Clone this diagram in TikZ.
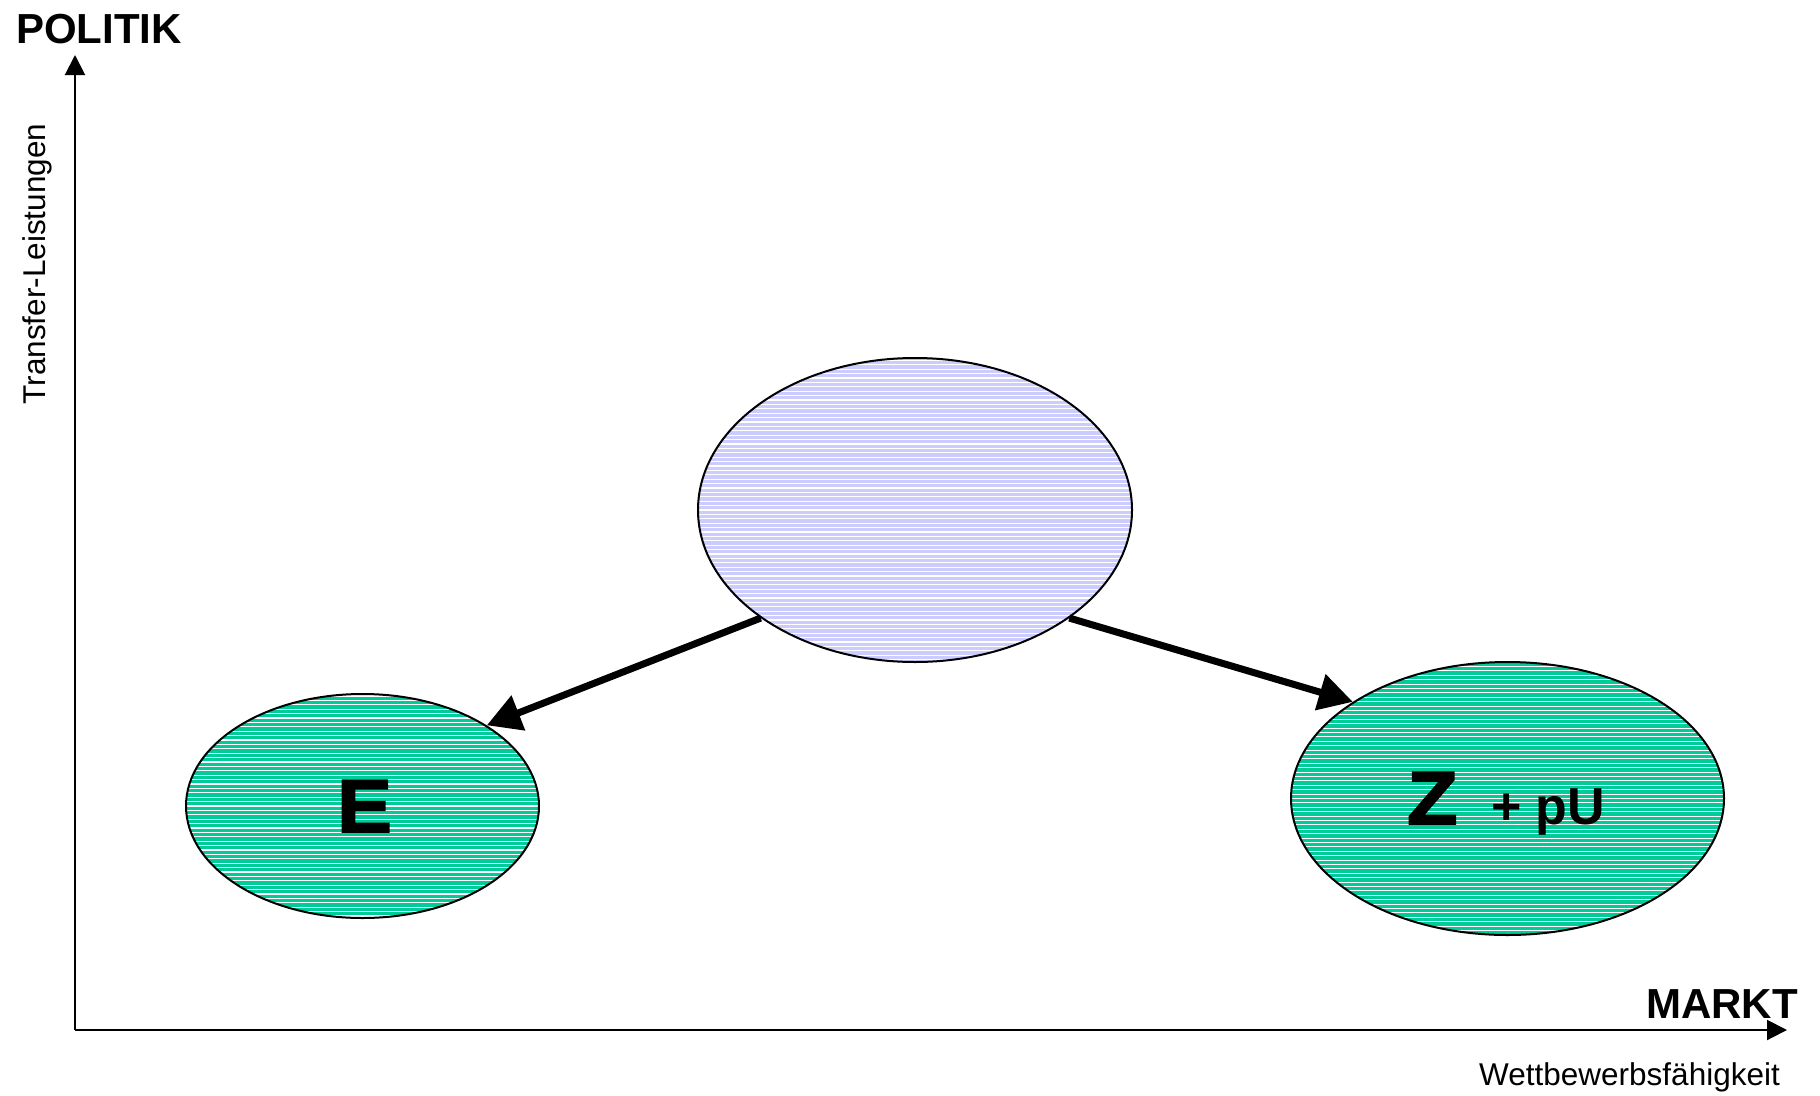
\documentclass[tikz,border=0pt]{standalone}
\usepackage{fontspec}
\setmainfont{Liberation Sans}
\newfontfamily\heavyfont[FakeBold=2.5,FakeStretch=1.1]{Liberation Sans Bold}
\usetikzlibrary{arrows.meta,shapes.geometric}
\definecolor{zgreen}{HTML}{00CC99}
\definecolor{zblue}{HTML}{CCCCFF}
\tikzset{
  hatched/.style={ellipse, draw=black, line width=2pt, inner sep=0pt, fill=#1,
    path picture={\foreach \k in {-80,...,80}{\draw[white,line width=1.1pt]
      ([yshift=\k*4.4pt]path picture bounding box.west) -- ([yshift=\k*4.4pt]path picture bounding box.east);}}},
  axis/.style={line width=2pt, -{Triangle[length=20pt,width=20pt]}},
  bigarrow/.style={line width=7pt, -{Triangle[length=34pt,width=36pt]}},
  axlabel/.style={font=\fontsize{42}{50}\selectfont\bfseries, inner sep=0pt},
  smlabel/.style={font=\fontsize{31.5}{38}\selectfont, inner sep=0pt},
  biglet/.style={font=\fontsize{75}{90}\selectfont\heavyfont, inner sep=0pt},
}
\begin{document}
\begin{tikzpicture}[x=1pt,y=-1pt]
\useasboundingbox (0,0) rectangle (1820,1095);
\coordinate (O) at (75,1030);
\coordinate (ytip) at (75,55);
\coordinate (xtip) at (1787,1030);
\draw[axis] (O) -- (ytip);
\draw[axis] (O) -- (xtip);
\node[axlabel, anchor=base west] (politik) at (16,43) {POLITIK};
\node[axlabel, anchor=base east] (markt) at (1798,1018) {MARKT};
\node[smlabel, anchor=base east] (wett) at (1780,1085) {Wettbewerbsfähigkeit};
\node[smlabel, anchor=base, rotate=90] (transfer) at (45,264) {Transfer-Leistungen};
\node[hatched=zblue, minimum width=434pt, minimum height=304pt] (blue) at (915,510) {};
\node[hatched=zgreen, minimum width=353pt, minimum height=224pt] (E) at (362.5,806) {};
\node[hatched=zgreen, minimum width=433pt, minimum height=273pt] (Z) at (1507.5,798.5) {};
\node[biglet, anchor=base] (Etext) at (364.5,832) {E};
\node[biglet, anchor=base west] (Ztext) at (1407,824) {Z};
\node[font=\fontsize{52}{60}\selectfont\bfseries, inner sep=0pt, anchor=base west] (pU) at (1491,824) {+ pU};
\draw[bigarrow] (blue.215) -- (E.33);
\draw[bigarrow] (blue.325) -- (Z.148);
\end{tikzpicture}
\end{document}
